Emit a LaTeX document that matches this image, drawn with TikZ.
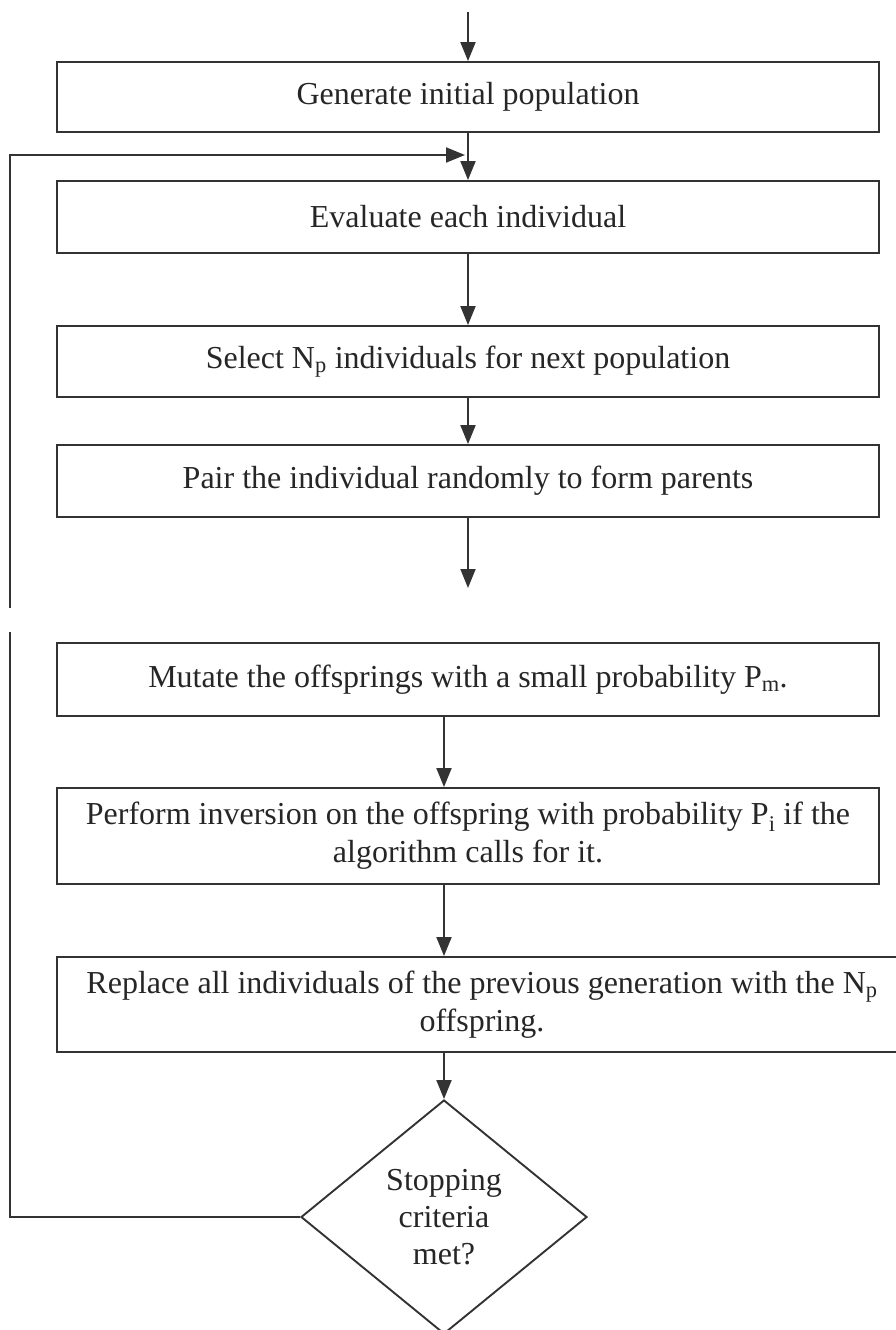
\documentclass[tikz,border=0pt]{standalone}
\usepackage{fontspec}
\setmainfont{Liberation Serif}
\usetikzlibrary{arrows.meta,shapes.geometric}

\begin{document}
\begin{tikzpicture}[x=1pt, y=-1pt, >={Triangle[length=19pt,width=15pt]},
  line width=1.9pt, draw=black!80,
  box/.style={draw=black!80, rectangle, minimum width=822pt, align=center, text=black!85,
    font=\fontsize{32}{38}\selectfont, inner sep=0pt},
  decision/.style={draw=black!80, diamond, aspect=1.22, minimum width=286pt, minimum height=234pt,
    align=center, text=black!85, font=\fontsize{32}{37}\selectfont, inner sep=0pt}]
\useasboundingbox (0,0) rectangle (895,1330);

% Blocks
\node[box, minimum height=70pt] (gen) at (468,97) {Generate initial population};
\node[box, minimum height=72pt] (eval) at (468,217) {Evaluate each individual};
\node[box, minimum height=71pt] (sel) at (468,361.5) {Select N\textsubscript{p} individuals for next population};
\node[box, minimum height=72pt] (pair) at (468,481) {Pair the individual randomly to form parents};
\node[box, minimum height=73pt] (mut) at (468,679.5) {Mutate the offsprings with a small probability P\textsubscript{m}.};
\node[box, minimum height=96pt] (inv) at (468,836) {Perform inversion on the offspring with probability P\textsubscript{i} if the\\algorithm calls for it.};
\node[box, minimum height=95pt, minimum width=850pt] (repl) at (482,1004.5) {Replace all individuals of the previous generation with the N\textsubscript{p}\\offspring.};
\node[decision] (stop) at (444,1217) {Stopping\\criteria\\met?};

% Free ends
\coordinate (start) at (468,12);
\coordinate (pairend) at (468,588);
\coordinate (loopin) at (465,155);
\coordinate (loopb) at (10,632);
\coordinate (loopc) at (10,608);
\coordinate (loopd) at (10,155);

% Connections
\draw[->] (start) -- (gen.north);
\draw[->] (gen) -- (eval);
\draw[->] (eval) -- (sel);
\draw[->] (sel) -- (pair);
\draw[->] (pair) -- (pairend);
\draw[->] (mut.south -| stop.north) -- (inv.north -| stop.north);
\draw[->] (inv.south -| stop.north) -- (repl.north -| stop.north);
\draw[->] (repl.south -| stop.north) -- (stop.north);

% Loop back
\draw (stop.west) -| (loopb);
\draw[->] (loopc) -- (loopd) -- (loopin);
\end{tikzpicture}
\end{document}
